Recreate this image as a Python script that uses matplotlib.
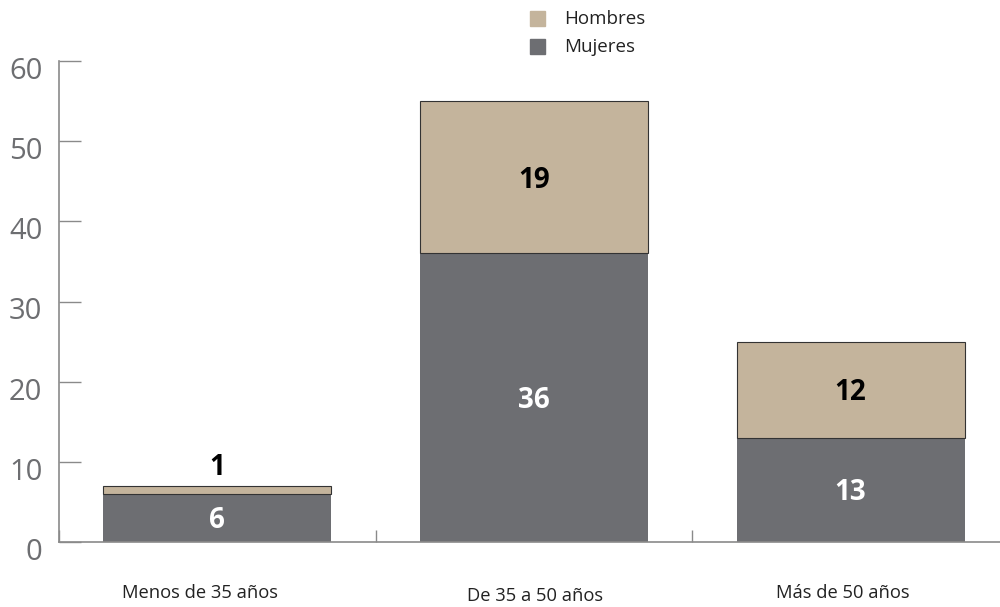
import matplotlib.pyplot as plt
import matplotlib.transforms as mtransforms

plt.rcParams['font.family'] = ['Open Sans', 'DejaVu Sans']

# Data
categories = ['Menos de 35 años', 'De 35 a 50 años', 'Más de 50 años']
mujeres = [6, 36, 13]
hombres = [1, 19, 12]

COLOR_MUJ = '#6d6e72'
COLOR_HOM = '#c4b49c'
GREY = '#6d6e71'
AXIS = '#8a8a8a'

fig = plt.figure(figsize=(10, 6.07), dpi=100)
ax = fig.add_axes([0.059, 65 / 607, 0.95, 481 / 607])

x = list(range(len(categories)))
width = 0.72

ax.bar(x, mujeres, width=width, color=COLOR_MUJ, linewidth=0, zorder=2)
ax.bar(x, hombres, width=width, bottom=mujeres, color=COLOR_HOM,
       edgecolor='#333333', linewidth=0.8, zorder=2)

# value labels (slight downward nudge so digits sit visually centred)
nudge = 0.35
for i in x:
    m, h = mujeres[i], hombres[i]
    ax.text(i, m / 2 - nudge, str(m), ha='center', va='center', color='white',
            fontsize=20, fontweight='bold', zorder=3)
    if h < 3:
        ax.text(i, m + h + 2.6 - nudge, str(h), ha='center', va='center',
                color='black', fontsize=20, fontweight='bold', zorder=3)
    else:
        ax.text(i, m + h / 2 - nudge, str(h), ha='center', va='center',
                color='black', fontsize=20, fontweight='bold', zorder=3)

ax.set_xlim(-0.5, 2.5)
ax.set_ylim(0, 60)
ax.set_yticks(range(0, 61, 10))

ax.spines['top'].set_visible(False)
ax.spines['right'].set_visible(False)
for s in ['left', 'bottom']:
    ax.spines[s].set_color(AXIS)
    ax.spines[s].set_linewidth(1.2)

ax.tick_params(axis='y', direction='in', length=16, width=1, color=AXIS,
               labelsize=21, labelcolor=GREY, pad=12)
ax.set_xticks([-0.5, 0.5, 1.5])
ax.set_xticklabels([])
ax.tick_params(axis='x', direction='in', length=8.5, width=1, color=AXIS)

offset = mtransforms.ScaledTranslation(0, -5 / 72, fig.dpi_scale_trans)
for lab in ax.get_yticklabels():
    lab.set_transform(lab.get_transform() + offset)

# category labels
label_shift = [-0.055, 0.003, -0.025]
label_y = [593, 596, 593]
trans = mtransforms.blended_transform_factory(ax.transData, fig.transFigure)
for i, c in enumerate(categories):
    ax.text(i + label_shift[i], 1 - label_y[i] / 607, c, transform=trans,
            ha='center', va='center', fontsize=13.2, color='#222222')

# legend
fig.patches.append(plt.Rectangle((530 / 1000, 1 - 26 / 607), 15 / 1000, 15 / 607,
                                 transform=fig.transFigure, color=COLOR_HOM))
fig.patches.append(plt.Rectangle((530 / 1000, 1 - 54 / 607), 15 / 1000, 15 / 607,
                                 transform=fig.transFigure, color=COLOR_MUJ))
fig.text(564 / 1000, 1 - 19 / 607, 'Hombres', ha='left', va='center',
         fontsize=13.5, color='#222222')
fig.text(564 / 1000, 1 - 47 / 607, 'Mujeres', ha='left', va='center',
         fontsize=13.5, color='#222222')

fig.savefig('out.png', dpi=100)
